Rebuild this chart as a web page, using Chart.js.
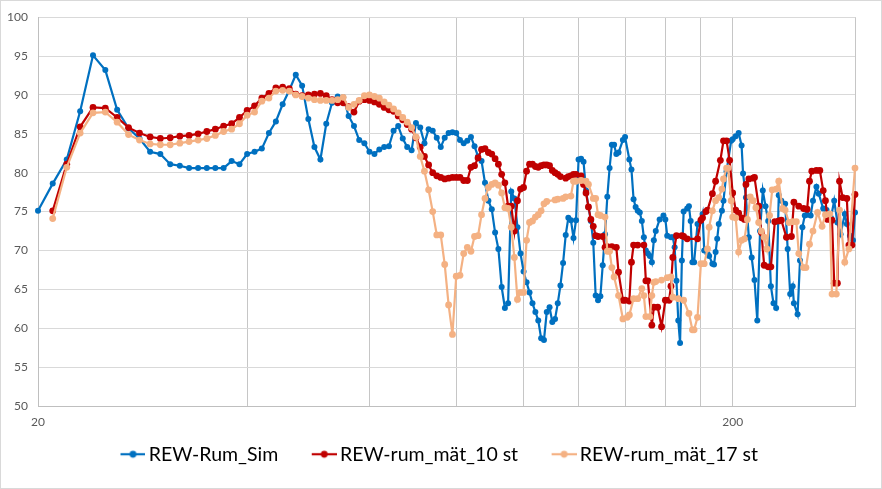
<!DOCTYPE html>
<html>
<head>
<meta charset="utf-8">
<script src="https://cdn.jsdelivr.net/npm/chart.js@4.4.1/dist/chart.umd.min.js"></script>
<style>
  html, body { margin: 0; padding: 0; background: #fff; }
  #wrap { width: 882px; height: 489px; position: relative; }
</style>
</head>
<body>
<div id="wrap"><canvas id="grafica"></canvas></div>
<script>
// --- DATA (Hz / dB) ---
const simHz = [20,21,22,23,24,25,26,27,28,29,30,31,32,33,34,35,36,37,38,39,40,41,42,43,44,45,46,47,48,49,50,
  51,52,53,54,55,56,57,58,59,60,61,62,63,64,65,66,67,68,69,70,71,72,73,74,75,76,77,78,79,80,
  81,82,83,84,85,86,87,88,89,90,91,92,93,94,95,96,97,98,99,100,101,102,103,104,105,106,107,108,109,110,
  111,112,113,114,115,116,117,118,119,120,121,122,123,124,125,126,127,128,129,130,131,132,133,134,135,136,137,139,140,
  142,143,144,145,146,147,148,149,150,151,152,153,154,155,157,159,160,161,163,164,165,166,167,168,169,170,
  172,173,174,175,176,178,180,181,182,184,185,187,188,189,190,191,193,194,196,199,200,
  202,204,206,207,209,211,213,215,217,219,221,223,225,227,229,231,233,235,238,240,242,244,245,248,250,
  252,254,256,259,261,264,266,270,273,277,280,283,286,290,292,295,298,300];
const simDb = [75.1,78.6,81.7,87.9,95.1,93.2,88.1,85.7,84.4,82.7,82.4,81.1,80.9,80.6,80.6,80.6,80.6,80.6,81.5,81.1,82.4,82.7,83.1,85.1,86.6,88.8,90.6,92.6,91.2,86.9,83.3,
  81.7,86.3,89.0,89.8,89.7,87.3,86.0,84.2,83.8,82.7,82.4,83.0,83.3,83.4,85.4,86.0,84.4,83.3,82.9,86.4,85.8,83.8,85.6,85.4,84.5,83.3,84.5,85.1,85.2,85.1,
  84.2,83.8,84.1,84.6,83.4,82.1,81.5,78.7,76.4,75.3,72.3,70.2,65.3,62.6,63.2,77.6,76.7,73.0,69.6,67.3,65.9,64.6,63.2,62.1,61.0,58.7,58.5,62.1,62.7,60.8,
  61.2,63.2,65.5,68.4,72.0,74.2,73.9,71.6,73.9,81.7,81.8,81.4,77.7,75.6,73.8,71.0,64.2,63.6,64.1,68.1,72.1,76.9,80.6,83.6,83.6,82.4,82.6,84.2,84.6,
  81.7,80.4,76.6,75.6,75.1,74.9,73.8,71.7,70.0,69.6,69.3,68.5,71.3,72.5,74.0,74.5,74.0,71.9,71.7,71.7,70.4,66.1,61.0,58.1,68.7,75.0,
  75.4,75.7,73.8,68.5,68.5,73.4,73.8,74.7,70.0,69.6,69.3,68.3,68.2,69.8,71.5,73.4,75.1,76.4,80.2,84.1,84.3,
  84.7,85.1,83.5,79.9,76.8,71.7,69.1,66.2,61.0,72.5,77.7,75.7,73.8,65.4,63.2,62.6,77.1,76.4,76.0,70.2,64.4,65.4,63.2,61.8,68.7,
  73.0,74.5,74.6,74.5,76.4,78.2,77.3,75.4,75.2,74.2,76.4,73.6,72.1,74.7,73.4,71.9,71.3,74.9];

const mat10Hz = [21,22,23,24,25,26,27,28,29,30,31,32,33,34,35,36,37,38,39,40,41,42,43,44,45,46,47,48,49,50,
  51,52,53,54,55,56,57,58,59,60,61,62,63,64,65,66,67,68,69,70,71,72,73,74,75,76,77,78,79,80,
  81,82,83,84,85,86,87,88,89,90,91,92,93,94,95,96,97,98,99,100,101,102,103,104,105,106,107,108,109,110,
  111,112,113,115,116,117,118,119,121,122,123,124,125,126,127,128,130,131,132,134,136,137,139,140,142,143,144,146,149,150,
  151,153,154,156,158,160,162,163,164,166,169,170,172,178,180,181,183,184,187,189,192,194,196,198,200,
  202,204,206,208,209,211,214,215,218,220,222,225,227,230,233,235,239,243,245,249,253,256,258,260,264,267,
  270,272,274,278,280,283,285,288,292,294,297,300];
const mat10Db = [75.1,81.1,85.9,88.4,88.3,87.1,85.8,85.1,84.6,84.4,84.5,84.7,84.8,85.0,85.3,85.6,86.0,86.3,87.1,88.0,88.6,89.6,90.2,90.9,91.0,90.8,90.1,89.9,90.0,90.1,
  90.2,89.9,89.4,89.0,89.0,88.5,87.8,89.2,89.4,89.3,89.1,88.8,88.4,88.1,87.9,87.3,86.8,86.2,85.6,84.5,83.3,82.1,81.0,80.0,79.6,79.4,79.2,79.3,79.4,79.4,
  79.4,79.0,79.0,80.7,80.9,81.9,83.0,83.1,82.6,82.4,81.8,81.1,79.8,78.7,75.7,75.7,72.5,76.4,77.9,78.1,80.2,81.1,81.1,80.8,80.7,80.9,81.0,81.0,80.9,80.3,
  80.0,79.8,79.5,79.3,79.5,79.6,79.8,79.8,79.6,78.5,77.4,75.6,74.0,73.1,71.9,71.8,71.8,70.4,70.5,70.5,70.4,67.2,63.6,63.6,63.5,68.5,70.7,70.7,70.7,66.1,
  66.1,60.4,62.7,62.7,60.2,63.6,63.6,65.4,69.1,71.9,71.9,71.8,71.5,71.5,73.9,74.2,75.0,75.2,77.3,78.9,81.6,84.1,84.1,81.6,77.4,
  75.2,74.8,74.2,74.0,78.5,79.2,79.3,79.4,75.7,72.3,68.1,67.9,67.9,73.7,73.8,73.9,71.7,71.8,76.2,75.7,75.4,75.3,78.9,80.2,80.3,80.3,
  77.7,76.4,74.0,73.9,65.8,65.8,78.9,76.8,76.7,70.7,70.7,77.2];

const mat17Hz = [21,22,23,24,25,26,27,28,29,30,31,32,33,34,35,36,37,38,39,40,41,42,43,44,45,46,47,48,49,50,
  51,52,53,54,55,56,57,58,59,60,61,62,63,64,65,66,67,68,69,70,71,72,73,74,75,76,77,78,79,80,
  81,82,83,84,85,86,87,88,89,90,91,92,93,94,95,96,97,98,99,100,101,102,103,104,105,106,107,108,111,112,
  114,115,117,118,119,121,123,124,126,127,128,129,131,132,133,134,135,137,139,141,142,144,146,148,149,150,152,153,154,155,
  158,161,163,164,167,170,173,175,176,178,180,182,184,185,187,189,191,193,194,196,197,199,200,202,
  204,206,208,210,212,214,216,218,220,222,224,226,228,231,233,236,238,241,244,247,249,253,255,258,261,265,269,272,276,278,282,285,290,294,300];
const mat17Db = [74.1,80.7,85.1,87.7,87.8,86.5,84.9,84.2,83.7,83.6,83.6,83.8,84.0,84.2,84.4,84.8,85.3,85.6,86.3,87.4,87.8,89.2,89.6,90.5,90.6,90.5,90.0,89.8,89.6,89.4,
  89.3,89.3,89.3,89.4,89.7,88.4,88.8,89.3,89.9,90.0,89.8,89.6,89.1,88.7,88.2,87.7,87.1,86.5,85.8,84.6,82.1,80.2,77.8,75.0,72.0,72.0,68.2,63.0,59.2,66.7,
  66.8,69.6,70.4,69.9,71.8,71.9,74.6,76.7,78.1,78.5,78.7,78.4,77.4,75.5,75.4,73.0,69.1,63.7,64.6,64.6,71.3,73.6,73.8,74.3,74.6,75.1,76.0,76.3,76.5,76.6,
  76.7,76.9,77.0,78.9,78.9,79.0,78.9,78.5,76.7,76.7,74.6,74.5,74.3,69.9,69.9,67.8,66.6,64.2,61.2,61.4,61.7,63.8,63.8,65.1,64.2,61.5,61.5,64.2,65.9,66.0,
  66.2,66.5,66.6,64.0,63.8,63.6,61.9,59.8,59.8,61.4,68.3,68.3,70.2,73.0,75.1,76.4,76.8,77.9,79.2,80.6,80.6,76.4,74.3,74.2,
  69.8,71.3,71.5,74.0,76.9,76.4,75.5,73.6,72.5,71.7,70.2,74.5,77.8,77.9,78.9,75.4,75.2,73.6,73.7,73.7,69.6,67.8,67.8,70.8,72.5,74.9,73.1,74.6,74.7,64.4,64.4,75.2,68.5,70.2,80.6];

// gridlines on the log axis and the two labelled ones
const gridHz = [20, 40, 60, 80, 100, 120, 140, 160, 180, 200, 300];
const labelHz = [20, 200];
const yTicks = [50, 55, 60, 65, 70, 75, 80, 85, 90, 95, 100];

const seriesNames = ['REW-Rum_Sim', 'REW-rum_mät_10 st', 'REW-rum_mät_17 st'];
const seriesColors = ['#0070C0', '#C00000', '#F4B183'];

// line + dot legend marker; the blank left part gives the spacing between entries
const MARK_BOX = 42;
function legendMarker(color) {
    const c = document.createElement('canvas');
    c.width = MARK_BOX + 13; c.height = 10;
    const g = c.getContext('2d');
    const x0 = c.width - 25;
    g.strokeStyle = color; g.lineWidth = 2.2;
    g.beginPath(); g.moveTo(x0, 5); g.lineTo(c.width, 5); g.stroke();
    g.fillStyle = color;
    g.beginPath(); g.arc(x0 + 12.5, 5, 3.4, 0, Math.PI * 2); g.fill();
    return c;
}
const markers = seriesColors.map(legendMarker);

function pares(hz, db) {
    return hz.map((f, i) => ({ x: f, y: db[i] }));
}

const fondo = {
    id: 'fondo',
    beforeDraw(chart) {
        const ctx = chart.ctx;
        ctx.save();
        ctx.fillStyle = '#fff';
        ctx.fillRect(0, 0, chart.width, chart.height);
        ctx.strokeStyle = '#d9d9d9';
        ctx.lineWidth = 1;
        ctx.strokeRect(0.5, 0.5, chart.width - 1, chart.height - 1);
        ctx.restore();
    }
};

const datasets = [pares(simHz, simDb), pares(mat10Hz, mat10Db), pares(mat17Hz, mat17Db)].map((d, i) => ({
    label: seriesNames[i],
    data: d,
    borderColor: seriesColors[i],
    backgroundColor: seriesColors[i],
    borderWidth: 2.2,
    pointRadius: i === 0 ? 3 : 3.4,
    pointHoverRadius: 4,
    pointBorderWidth: 0,
    tension: 0,
    fill: false,
    clip: false,
    order: 3 - i
}));

new Chart(document.getElementById('grafica').getContext('2d'), {
    type: 'line',
    data: { datasets },
    options: {
        responsive: true,
        maintainAspectRatio: false,
        animation: false,
        layout: { padding: { top: 14, right: 27, bottom: 15, left: 0 } },
        plugins: {
            tooltip: { enabled: false },
            legend: {
                position: 'bottom',
                labels: {
                    usePointStyle: true,
                    pointStyleWidth: MARK_BOX,
                    padding: 10,
                    color: '#595959',
                    font: { family: 'Lato', size: 19.5 },
                    generateLabels: (chart) => chart.data.datasets.map((ds, i) => ({
                        text: ds.label,
                        pointStyle: markers[i],
                        fillStyle: ds.borderColor,
                        strokeStyle: ds.borderColor,
                        lineWidth: 0,
                        hidden: false,
                        datasetIndex: i
                    }))
                }
            }
        },
        scales: {
            x: {
                type: 'logarithmic',
                min: 20,
                max: 300,
                afterBuildTicks: (axis) => { axis.ticks = gridHz.map(v => ({ value: v })); },
                afterFit: (axis) => { axis.height = 28.5; },
                grid: { color: '#c6c6c6', drawTicks: false },
                border: { color: '#bfbfbf' },
                ticks: {
                    autoSkip: false,
                    maxRotation: 0,
                    padding: 9,
                    color: '#595959',
                    font: { family: 'Lato', size: 12 },
                    callback: (v) => labelHz.includes(v) ? String(v) : ''
                }
            },
            y: {
                min: 50,
                max: 100,
                afterBuildTicks: (axis) => { axis.ticks = yTicks.map(v => ({ value: v })); },
                afterFit: (axis) => { axis.width = 38; },
                grid: { color: '#d9d9d9', drawTicks: false },
                border: { color: '#bfbfbf' },
                ticks: {
                    padding: 10,
                    color: '#595959',
                    font: { family: 'Lato', size: 12 }
                }
            }
        }
    },
    plugins: [fondo]
});
</script>
</body>
</html>
